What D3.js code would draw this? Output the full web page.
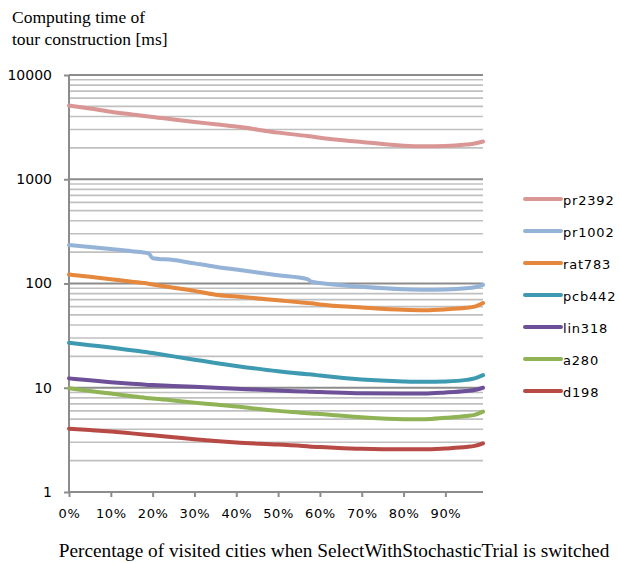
<!DOCTYPE html>
<html><head><meta charset="utf-8">
<script src="https://cdn.jsdelivr.net/npm/d3@7"></script>
<style>body{margin:0;background:#fff}</style>
</head><body>
<svg id="c" width="619" height="563"></svg>
<script>
const xPct = [0, 5, 10, 15, 19, 20, 25, 30, 35, 40, 50, 57, 58, 60, 70, 80, 85, 90, 95, 97, 99];
const seriesNames = ["pr2392", "pr1002", "rat783", "pcb442", "lin318", "a280", "d198"];
const colors = ["#d99694", "#95b3d7", "#e5873c", "#3d9ab1", "#6d5098", "#8fb355", "#b84a46"];
const pr2392 = [5100, 4780, 4450, 4190, 4000, 3950, 3750, 3550, 3370, 3200, 2800, 2600, 2570, 2500, 2280, 2100, 2070, 2080, 2150, 2200, 2300];
const pr1002 = [234, 224, 214, 204, 195, 175, 168, 156, 145, 136, 120, 110, 104, 101, 93, 88, 87, 87.5, 90, 92, 97];
const rat783 = [122, 116, 110, 104, 99.5, 98, 91, 85, 78, 75, 69, 65, 64.5, 63, 59, 56, 55.5, 56.5, 58.5, 60, 65];
const pcb442 = [27, 25.6, 24.3, 22.9, 21.8, 21.5, 20, 18.6, 17.3, 16.2, 14.4, 13.5, 13.4, 13.1, 12.0, 11.5, 11.4, 11.5, 11.9, 12.3, 13.2];
const lin318 = [12.3, 11.8, 11.3, 10.9, 10.65, 10.6, 10.4, 10.2, 10.0, 9.8, 9.4, 9.2, 9.15, 9.1, 8.85, 8.8, 8.8, 9.0, 9.3, 9.5, 10.0];
const a280 = [9.9, 9.3, 8.8, 8.3, 7.95, 7.9, 7.55, 7.2, 6.9, 6.6, 6.0, 5.7, 5.65, 5.6, 5.2, 5.0, 5.0, 5.15, 5.35, 5.5, 5.9];
const d198 = [4.05, 3.93, 3.8, 3.65, 3.53, 3.5, 3.35, 3.2, 3.08, 2.98, 2.85, 2.74, 2.72, 2.7, 2.6, 2.57, 2.57, 2.62, 2.7, 2.77, 2.93];
const xTicks = [0, 10, 20, 30, 40, 50, 60, 70, 80, 90];
const yTicks = [1, 10, 100, 1000, 10000];
const titleLines = ["Computing time of", "tour construction [ms]"];
const xTitle = "Percentage of visited cities when SelectWithStochasticTrial is switched";

const allSeries = [pr2392, pr1002, rat783, pcb442, lin318, a280, d198];
const svg = d3.select("#c");
const L = 69, R = 483, T = 75, B = 492;
const sans = "DejaVu Sans, Verdana, sans-serif";
const serif = "Liberation Serif, Times New Roman, serif";
const x = d3.scaleLinear().domain([0, 99]).range([L, R]);
const y = d3.scaleLog().domain([1, 10000]).range([B, T]);

// minor gridlines
const minors = [];
yTicks.slice(0, 4).forEach(d => { for (let k = 2; k <= 9; k++) minors.push(d * k); });
svg.append("g").selectAll("line").data(minors).join("line")
  .attr("x1", L).attr("x2", R).attr("y1", d => y(d)).attr("y2", d => y(d))
  .attr("stroke", "#c0c0c0").attr("stroke-width", 1.6);
// major gridlines
svg.append("g").selectAll("line").data(yTicks.slice(1)).join("line")
  .attr("x1", L).attr("x2", R).attr("y1", d => y(d)).attr("y2", d => y(d))
  .attr("stroke", "#8c8c8c").attr("stroke-width", 1.8);

// axes
const gy = svg.append("g").attr("transform", `translate(${L},0)`)
  .call(d3.axisLeft(y).tickValues(yTicks).tickFormat(d3.format("d")).tickSize(5).tickPadding(12));
const gx = svg.append("g").attr("transform", `translate(0,${B})`)
  .call(d3.axisBottom(x).tickValues(xTicks).tickFormat(d => d + "%").tickSize(5).tickPadding(12));
[gy, gx].forEach(g => {
  g.select(".domain").attr("stroke", "#8c8c8c").attr("stroke-width", 2);
  g.selectAll(".tick line").attr("stroke", "#8c8c8c").attr("stroke-width", 2);
  g.selectAll("text").attr("font-family", sans).attr("font-size", 13).attr("fill", "#000");
});
gy.selectAll("text").attr("font-size", 14);
gx.selectAll("text").attr("letter-spacing", 0.6);
gy.select(".domain").attr("d", `M0,${B}V${T}`);
gx.select(".domain").attr("d", `M${L},0H${R}`);

// lines
const line = d3.line().x((d, i) => x(xPct[i])).y(d => y(d)).curve(d3.curveMonotoneX);
svg.append("g").selectAll("path").data(allSeries).join("path")
  .attr("d", d => line(d)).attr("fill", "none")
  .attr("stroke", (d, i) => colors[i]).attr("stroke-width", 4).attr("stroke-linecap", "round");

// legend
const lg = svg.append("g").selectAll("g").data(seriesNames).join("g")
  .attr("transform", (d, i) => `translate(524,${199 + i * 32})`);
lg.append("line").attr("x1", 1).attr("x2", 37).attr("stroke", (d, i) => colors[i])
  .attr("stroke-width", 4).attr("stroke-linecap", "round");
lg.append("text").attr("x", 39).attr("y", 5.5).text(d => d)
  .attr("font-family", sans).attr("font-size", 13).attr("letter-spacing", 0.8);

// titles
svg.append("g").selectAll("text").data(titleLines).join("text")
  .attr("x", 12).attr("y", (d, i) => 23 + i * 22).text(d => d)
  .attr("font-family", serif).attr("font-size", 17.5);
svg.append("text").attr("x", 334).attr("y", 557).attr("text-anchor", "middle").text(xTitle)
  .attr("font-family", serif).attr("font-size", 19.3);
</script>
</body></html>
